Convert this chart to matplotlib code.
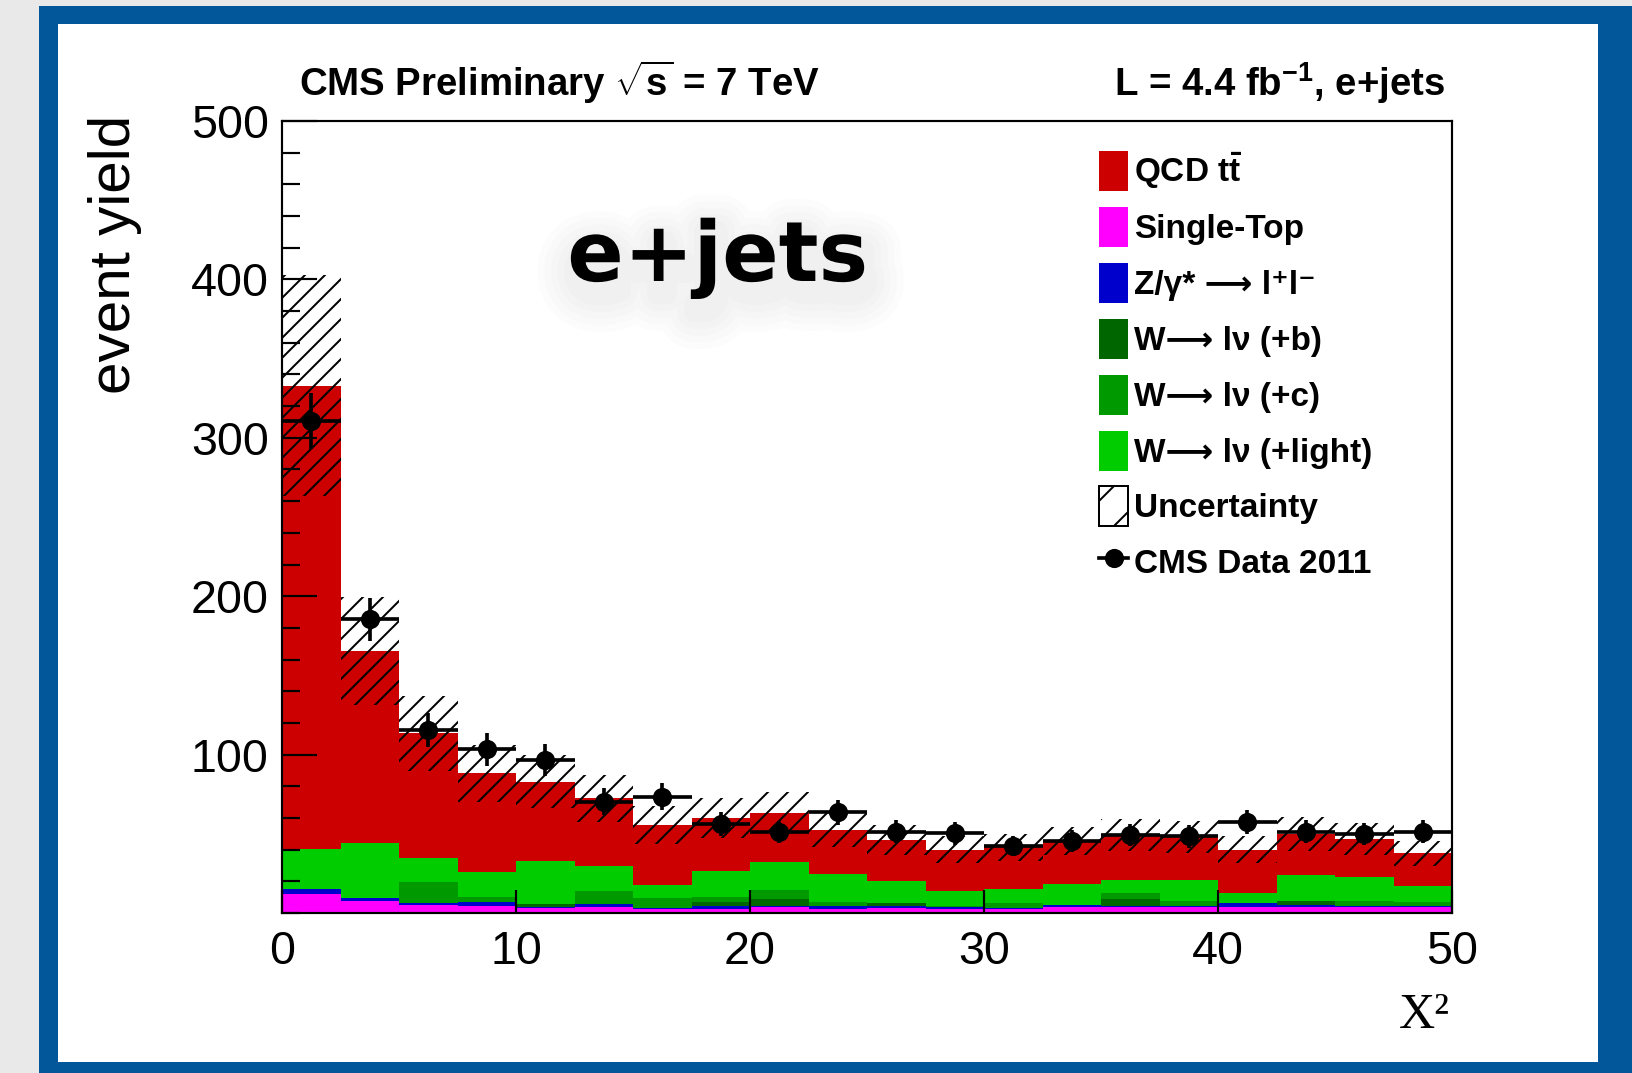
import numpy as np
import matplotlib
matplotlib.use("Agg")
import matplotlib.pyplot as plt
import matplotlib.patheffects as pe
from matplotlib.patches import Patch, Rectangle
from matplotlib.lines import Line2D
from matplotlib.ticker import MultipleLocator, FixedLocator

plt.rcParams['mathtext.fontset'] = 'custom'
plt.rcParams['mathtext.rm'] = 'Liberation Sans:bold'
plt.rcParams['mathtext.it'] = 'Liberation Sans:bold'
plt.rcParams['mathtext.bf'] = 'Liberation Sans:bold'
plt.rcParams['hatch.linewidth'] = 1.2

# chi2 binning: 20 bins of width 2.5
edges = np.linspace(0, 50, 21)
width = 2.5

single_top = [12.0, 7.8, 5.0, 4.4, 3.2, 4.0, 2.5, 2.7, 4.0, 2.7,
              3.2, 2.5, 2.7, 3.6, 4.0, 4.0, 4.0, 4.0, 4.0, 4.0]
z_ll = [3.2, 1.5, 1.0, 2.5, 0.6, 1.7, 0.9, 1.7, 0.5, 1.7,
        1.3, 1.2, 0.4, 1.2, 0.4, 0.4, 2.1, 1.2, 0.4, 0.4]
w_b = [0.0, 0.0, 0.0, 0.0, 2.0, 0.0, 0.0, 2.5, 4.2, 0.0,
       2.0, 0.0, 0.0, 0.0, 4.6, 0.0, 0.0, 2.6, 0.0, 0.0]
w_c = [0.0, 0.0, 13.5, 3.0, 0.0, 8.2, 6.1, 3.0, 5.7, 2.5,
       0.0, 0.8, 3.0, 0.0, 3.8, 3.0, 0.0, 0.0, 2.9, 2.5]
w_light = [25.0, 35.1, 15.2, 16.1, 26.8, 15.8, 8.2, 16.6, 17.8, 17.9,
           13.9, 9.4, 9.1, 13.5, 8.0, 13.4, 6.3, 16.0, 15.2, 10.1]
qcd_tt = [292.8, 121.2, 78.7, 62.2, 50.4, 42.7, 37.9, 33.3, 31.1, 27.6,
          25.7, 25.9, 26.3, 27.3, 28.4, 27.0, 27.4, 26.1, 24.4, 20.7]
# half-width of the hatched uncertainty band per bin
uncert = [70.0, 34.0, 23.5, 18.0, 17.0, 15.0, 12.0, 12.5, 13.0, 11.0,
          9.5, 8.5, 8.5, 9.0, 10.0, 10.0, 8.5, 11.0, 10.0, 8.0]

data = [310.5, 185.4, 115.5, 103.3, 96.6, 70.3, 73.4, 56.2, 51.0, 63.5,
        51.3, 50.3, 42.3, 45.4, 49.2, 48.3, 57.4, 51.4, 50.0, 51.4]
data_err = [17.6, 13.6, 10.7, 10.2, 9.8, 8.4, 8.6, 7.5, 7.1, 8.0,
            7.2, 7.1, 6.5, 6.7, 7.0, 7.0, 7.6, 7.2, 7.1, 7.2]

# stacking order, bottom to top
stack = [
    ("Single-Top", single_top, "#ff00ff"),
    ("Z/γ* ⟶ l⁺l⁻", z_ll, "#0000cc"),
    ("W⟶ lν (+b)", w_b, "#006600"),
    ("W⟶ lν (+c)", w_c, "#009900"),
    ("W⟶ lν (+light)", w_light, "#00cc00"),
    (r"QCD $t\bar{t}$", qcd_tt, "#cc0000"),
]
legend_order = [5, 0, 1, 2, 3, 4]


class SoftShadow(pe.AbstractPathEffect):
    """Blurred drop shadow built from faint, widening outline strokes."""

    def __init__(self, offset=(2, -8), widths=(44, 36, 28, 20, 12), alpha=0.011):
        super().__init__(offset)
        self.widths = widths
        self.alpha = alpha

    def draw_path(self, renderer, gc, tpath, affine, rgbFace=None):
        shifted = affine + self._offset_transform(renderer)
        for w in self.widths:
            gc0 = renderer.new_gc()
            gc0.copy_properties(gc)
            gc0.set_linewidth(w)
            gc0.set_joinstyle("round")
            gc0.set_foreground((0, 0, 0, self.alpha))
            renderer.draw_path(gc0, tpath, shifted, None)
            gc0.restore()


W, H = 1632, 1073
fig = plt.figure(figsize=(W / 120, H / 120), dpi=120)
fig.patch.set_facecolor("#e9e9e9")
fig.patches.append(Rectangle((39 / W, 0), 1 - 39 / W, 1 - 6 / H,
                             transform=fig.transFigure, facecolor="#02569a",
                             edgecolor="none", zorder=-2))
fig.patches.append(Rectangle((58 / W, 11 / H), (1598 - 58) / W, (1062 - 24) / H,
                             transform=fig.transFigure, facecolor="white",
                             edgecolor="none", zorder=-1))

ax = fig.add_axes([282 / W, 1 - 913 / H, (1452 - 282) / W, (913 - 121) / H])
ax.set_facecolor("none")

left = edges[:-1]
centers = left + width / 2
bottom = np.zeros(len(left))
for name, vals, col in stack:
    ax.bar(left, vals, width=width, bottom=bottom, align="edge",
           color=col, edgecolor="none", linewidth=0, zorder=1)
    bottom = bottom + np.array(vals)
total = bottom

unc = np.array(uncert)
ax.bar(left, 2 * unc, width=width, bottom=total - unc, align="edge",
       fill=False, hatch="//", edgecolor="black", linewidth=0, zorder=1.5)

ax.errorbar(centers, data, xerr=width / 2, yerr=data_err, fmt="o",
            color="black", ms=10.5, elinewidth=2.2, capsize=0, zorder=3)

ax.set_xlim(0, 50)
ax.set_ylim(0, 500)
ax.xaxis.set_major_locator(FixedLocator([0, 10, 20, 30, 40, 50]))
ax.yaxis.set_major_locator(FixedLocator([100, 200, 300, 400, 500]))
ax.yaxis.set_minor_locator(MultipleLocator(20))
ax.tick_params(axis="both", which="both", direction="in", width=1.3,
               labelsize=28, top=False, right=False)
ax.tick_params(axis="y", which="major", length=21, pad=8)
ax.tick_params(axis="y", which="minor", length=11)
ax.tick_params(axis="x", which="major", length=14, pad=10)
for lab in ax.get_xticklabels() + ax.get_yticklabels():
    lab.set_fontfamily("Liberation Sans")
for sp in ax.spines.values():
    sp.set_linewidth(1.3)

fig.text(115 / W, 1 - 254 / H, "event yield", rotation=90, ha="center",
         va="center", fontsize=35, family="Liberation Sans")
fig.text(1450 / W, 1 - 1028 / H, "X²", ha="right", va="baseline",
         fontsize=30, family="Liberation Serif")

fig.text(299 / W, 1 - 96 / H, r"CMS Preliminary $\sqrt{s}$ = 7 TeV",
         ha="left", va="baseline", fontsize=23, fontweight="bold",
         family="Liberation Sans")
fig.text(1445 / W, 1 - 96 / H, r"L = 4.4 fb$^{-1}$, e+jets",
         ha="right", va="baseline", fontsize=23, fontweight="bold",
         family="Liberation Sans")

fig.text(718 / W, 1 - 281 / H, "e+jets", ha="center", va="baseline",
         fontsize=50, fontweight="bold", family="DejaVu Sans",
         path_effects=[SoftShadow(), pe.Normal()])

handles = [Patch(facecolor=stack[i][2], edgecolor="none") for i in legend_order]
labels = [stack[i][0] for i in legend_order]
handles.append(Patch(facecolor="white", edgecolor="black", hatch="/", linewidth=1.2))
labels.append("Uncertainty")
handles.append(Line2D([], [], color="black", marker="o", ms=10.5, lw=2.2))
labels.append("CMS Data 2011")

fig.legend(handles, labels, loc="upper left",
           bbox_to_anchor=(1099 / W, 1 - 151 / H),
           bbox_transform=fig.transFigure, frameon=False,
           prop={"family": ["Liberation Sans", "DejaVu Sans"],
                 "weight": "bold", "size": 20},
           handlelength=0.87, handleheight=1.47, handletextpad=0.18,
           labelspacing=0.475, borderpad=0, borderaxespad=0)

fig.savefig("out.png", dpi=120)
